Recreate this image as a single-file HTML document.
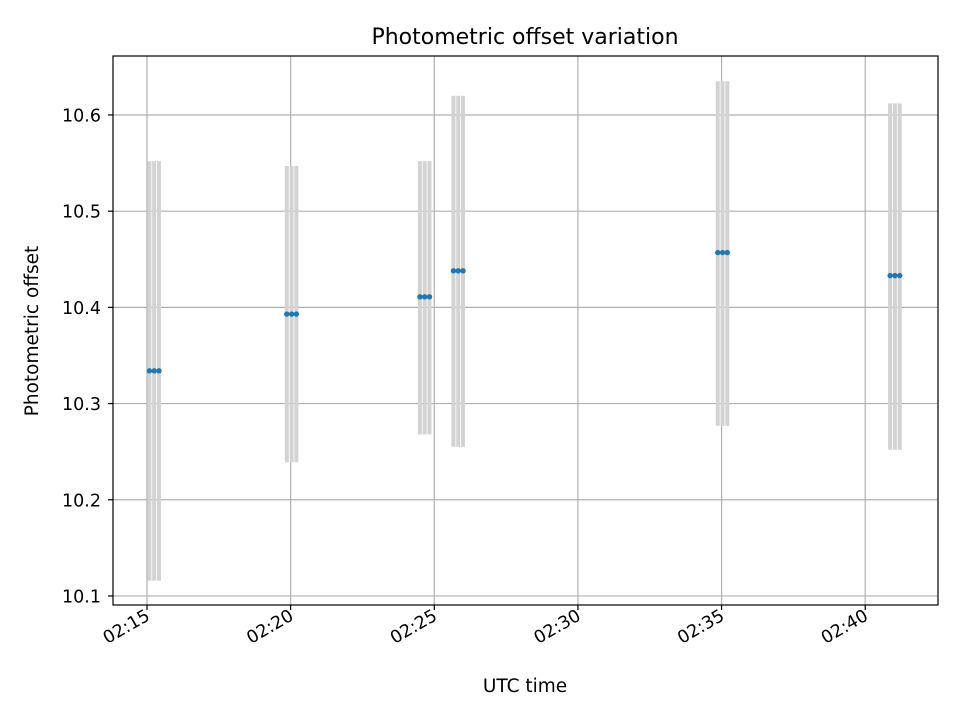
<!DOCTYPE html>
<html><head><meta charset="utf-8"><style>body{margin:0;background:#fff}svg{display:block;font-family:"DejaVu Sans","Liberation Sans",sans-serif}</style></head>
<body>
<svg id="chart" width="960" height="720" xmlns="http://www.w3.org/2000/svg">
<text x="525" y="44" font-size="22" text-anchor="middle">Photometric offset variation</text>
<text x="525" y="692" font-size="18.5" text-anchor="middle">UTC time</text>
<text transform="translate(38,331) rotate(-90)" font-size="18.5" text-anchor="middle">Photometric offset</text>
<g id="grid"></g><g id="bars"></g><g id="pts"></g><g id="axes"></g>
</svg>
<script>
const times = ["02:15:05","02:15:15","02:15:25","02:19:52","02:20:02","02:20:12","02:24:30","02:24:40","02:24:50","02:25:40","02:25:50","02:26:00","02:34:52","02:35:02","02:35:12","02:40:52","02:41:02","02:41:12"];
const offsets = [10.334,10.334,10.334,10.393,10.393,10.393,10.411,10.411,10.411,10.438,10.438,10.438,10.457,10.457,10.457,10.433,10.433,10.433];
const errLow = [0.218,0.218,0.218,0.154,0.154,0.154,0.143,0.143,0.143,0.183,0.183,0.183,0.180,0.180,0.180,0.181,0.181,0.181];
const errHigh = [0.218,0.218,0.218,0.154,0.154,0.154,0.141,0.141,0.141,0.182,0.182,0.182,0.178,0.178,0.178,0.179,0.179,0.179];
const yTicks = [10.1,10.2,10.3,10.4,10.5,10.6];
const xTicks = ["02:15","02:20","02:25","02:30","02:35","02:40"];
const L=113,R=938,T=56,B=605;
function sec(s){const p=s.split(':').map(Number);return p[0]*3600+p[1]*60+(p[2]||0);}
const x0=sec("02:13:49"),x1=sec("02:42:32"),y0=10.0906,y1=10.6613;
const X=t=>L+(sec(t)-x0)/(x1-x0)*(R-L);
const Y=v=>B-(v-y0)/(y1-y0)*(B-T);
const NS="http://www.w3.org/2000/svg";
function mk(tag,attrs,parent){const e=document.createElementNS(NS,tag);for(const k in attrs)e.setAttribute(k,attrs[k]);document.getElementById(parent).appendChild(e);return e;}
xTicks.forEach(t=>{const x=X(t);
 let g=mk('line',{x1:x,x2:x,y1:T,y2:B,stroke:'#b0b0b0','stroke-width':1.2},'grid');
 
 
 mk('line',{x1:x,x2:x,y1:B,y2:B+5,stroke:'#000','stroke-width':1.2},'axes');
 let tx=mk('text',{transform:`translate(${x+4},${B+14}) rotate(-30)`,'font-size':17.5,'text-anchor':'end'},'axes');
 tx.textContent=t;
 
 
});
yTicks.forEach(v=>{const y=Y(v);
 let g=mk('line',{x1:L,x2:R,y1:y,y2:y,stroke:'#b0b0b0','stroke-width':1.2},'grid');
 
 
 mk('line',{x1:L-5,x2:L,y1:y,y2:y,stroke:'#000','stroke-width':1.2},'axes');
 let tx=mk('text',{x:L-12,y:y+6.5,'font-size':17.5,'text-anchor':'end'},'axes');
 tx.textContent=v.toFixed(1);
 
 
});
times.forEach((t,i)=>{const x=X(t);
 let b=mk('line',{x1:x,x2:x,y1:Y(offsets[i]-errLow[i]),y2:Y(offsets[i]+errHigh[i]),stroke:'#d3d3d3','stroke-width':4},'bars');
 
 
 let c=mk('circle',{cx:x,cy:Y(offsets[i]),r:2.7,fill:'#1f77b4'},'pts');
 
 
});
let fr=mk('rect',{x:L,y:T,width:R-L,height:B-T,fill:'none',stroke:'#000','stroke-width':1.2},'axes');


</script>
</body></html>
